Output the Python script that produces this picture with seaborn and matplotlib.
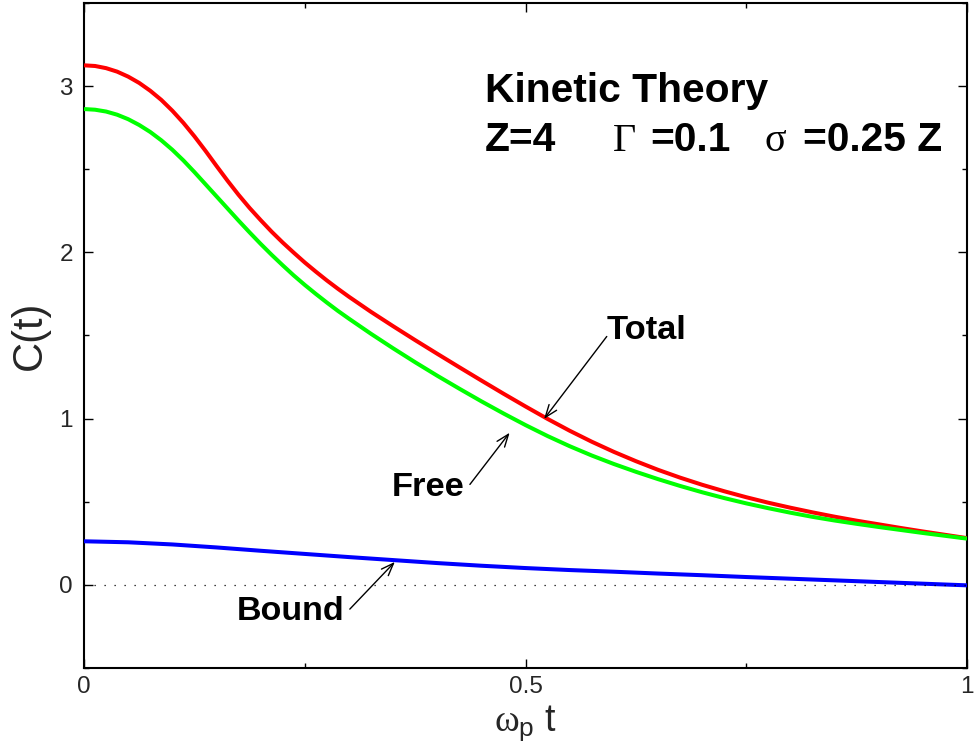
import matplotlib
matplotlib.use("Agg")
import matplotlib.pyplot as plt
import seaborn as sns
from matplotlib.ticker import MultipleLocator

# ---- data ----
t_curve = [0.0000, 0.0125, 0.0250, 0.0375, 0.0500, 0.0625, 0.0750, 0.0875,
           0.1000, 0.1125, 0.1250, 0.1375, 0.1500, 0.1625, 0.1750, 0.1875,
           0.2000, 0.2125, 0.2250, 0.2375, 0.2500, 0.2625, 0.2750, 0.2875,
           0.300, 0.325, 0.350, 0.375, 0.400, 0.425, 0.450, 0.475, 0.500,
           0.525, 0.550, 0.575, 0.600, 0.625, 0.650, 0.675, 0.700, 0.725,
           0.750, 0.775, 0.800, 0.825, 0.850, 0.875, 0.900, 0.925, 0.950,
           0.975, 1.000]

c_total = [3.125, 3.121, 3.108, 3.087, 3.057, 3.019, 2.972, 2.917,
           2.852, 2.779, 2.698, 2.611, 2.520, 2.431, 2.346, 2.267,
           2.194, 2.124, 2.059, 1.998, 1.939, 1.884, 1.831, 1.781,
           1.733, 1.642, 1.556, 1.472, 1.390, 1.309, 1.229, 1.150, 1.073,
           0.998, 0.927, 0.861, 0.800, 0.744, 0.692, 0.645, 0.602, 0.563,
           0.527, 0.494, 0.464, 0.436, 0.410, 0.386, 0.364, 0.342, 0.321,
           0.301, 0.281]

c_free = [2.862, 2.858, 2.847, 2.828, 2.801, 2.766, 2.724, 2.674,
          2.617, 2.553, 2.483, 2.410, 2.337, 2.264, 2.191, 2.120,
          2.051, 1.985, 1.922, 1.861, 1.804, 1.750, 1.698, 1.648,
          1.601, 1.510, 1.423, 1.339, 1.258, 1.180, 1.104, 1.031, 0.961,
          0.895, 0.834, 0.778, 0.727, 0.680, 0.636, 0.595, 0.557, 0.522,
          0.490, 0.461, 0.434, 0.409, 0.387, 0.367, 0.348, 0.330, 0.312,
          0.295, 0.278]

t_bound = [0.00, 0.05, 0.10, 0.15, 0.20, 0.25, 0.30, 0.35, 0.40, 0.45, 0.50,
           0.55, 0.60, 0.65, 0.70, 0.75, 0.80, 0.85, 0.90, 0.95, 1.00]
c_bound = [0.262, 0.256, 0.243, 0.225, 0.205, 0.186, 0.167, 0.149, 0.131, 0.115,
           0.101, 0.089, 0.079, 0.068, 0.058, 0.047, 0.037, 0.027, 0.017, 0.007,
           -0.003]

x_ticks = [0, 0.5, 1]
x_tick_labels = ["0", "0.5", "1"]
y_ticks = [0, 1, 2, 3]
y_tick_labels = ["0", "1", "2", "3"]

sns.set_theme(style="ticks")
plt.rcParams.update({
    "font.family": ["Liberation Sans", "DejaVu Sans"],
    "mathtext.fontset": "custom",
    "mathtext.rm": "Liberation Sans",
    "mathtext.it": "Liberation Serif",
    "mathtext.bf": "Liberation Sans:bold",
    "axes.facecolor": "white",
    "figure.facecolor": "white",
})

fig = plt.figure(figsize=(9.76, 7.46), dpi=100)
ax = fig.add_axes([0.0861, 0.1046, 0.9047, 0.8914])

line_kw = dict(lw=2.9, ax=ax, zorder=3, solid_joinstyle="round",
               solid_capstyle="butt")
sns.lineplot(x=t_curve, y=c_total, color="#ff0000", **line_kw)
sns.lineplot(x=t_curve, y=c_free, color="#00ff00", **line_kw)
sns.lineplot(x=t_bound, y=c_bound, color="#0000ff", **line_kw)
ax.axhline(0, color="black", lw=0.9, ls=(0, (1, 7)), zorder=4)

ax.set_xlim(0, 1)
ax.set_ylim(-0.5, 3.5)
ax.set_xticks(x_ticks)
ax.set_xticklabels(x_tick_labels)
ax.set_yticks(y_ticks)
ax.set_yticklabels(y_tick_labels)
ax.xaxis.set_minor_locator(MultipleLocator(0.25))
ax.yaxis.set_minor_locator(MultipleLocator(0.5))
ax.tick_params(which="both", direction="in", top=True, right=True,
               color="black", width=1.0)
ax.tick_params(which="major", length=6.5, labelsize=17.5)
ax.tick_params(which="minor", length=3.8)
ax.tick_params(axis="x", which="major", pad=5.5)
ax.tick_params(axis="y", which="major", pad=8)
for s in ax.spines.values():
    s.set_linewidth(1.5)
    s.set_color("black")

ax.set_ylabel("C(t)", fontsize=30)
ax.yaxis.set_label_coords(-0.039, 0.5)
ax.set_xlabel(r"$\omega_\mathrm{p}$ t", fontsize=27)
ax.xaxis.label.set_verticalalignment("baseline")
ax.xaxis.set_label_coords(0.5, -0.0935)

# annotations
bold = dict(fontweight="bold", color="black", ha="left", va="baseline")
greek = dict(family="Liberation Serif", color="black", ha="left", va="baseline")
ax.text(0.4541, 2.903, "Kinetic Theory", fontsize=29.3, **bold)
ax.text(0.4541, 2.610, "Z=4", fontsize=29.3, **bold)
ax.text(0.5991, 2.610, "Γ", fontsize=29, **greek)
ax.text(0.641, 2.610, "=0.1", fontsize=29.3, **bold)
ax.text(0.7712, 2.610, "σ", fontsize=29, **greek)
ax.text(0.8143, 2.610, "=0.25 Z", fontsize=29.3, **bold)

ax.text(0.592, 1.478, "Total", fontsize=24.8, **bold)
ax.text(0.3485, 0.534, "Free", fontsize=24.8, **bold)
ax.text(0.1729, -0.210, "Bound", fontsize=24.5, **bold)

arrow = dict(arrowstyle="->,head_length=0.45,head_width=0.17", lw=1.0,
             color="black", shrinkA=0, shrinkB=0, mutation_scale=20)
ax.annotate("", xy=(0.521, 0.998), xytext=(0.592, 1.494), arrowprops=arrow)
ax.annotate("", xy=(0.482, 0.915), xytext=(0.437, 0.604), arrowprops=arrow)
ax.annotate("", xy=(0.352, 0.138), xytext=(0.301, -0.146), arrowprops=arrow)

fig.savefig("out.png", dpi=100)
